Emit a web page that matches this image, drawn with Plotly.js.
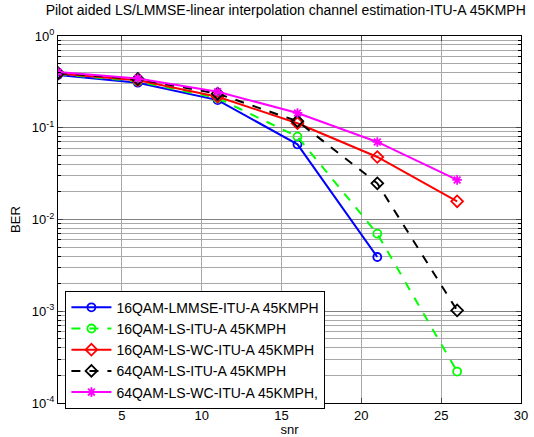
<!DOCTYPE html>
<html><head><meta charset="utf-8">
<script src="https://cdn.plot.ly/plotly-3.0.1.min.js"></script>
<style>html,body{margin:0;padding:0;background:#fff}#chart{width:534px;height:437px}</style>
</head><body><div id="chart"></div>
<script>
const snr = [1, 6, 11, 16, 21, 26];
const names = ['16QAM-LMMSE-ITU-A 45KMPH','16QAM-LS-ITU-A 45KMPH','16QAM-LS-WC-ITU-A 45KMPH','64QAM-LS-ITU-A 45KMPH','64QAM-LS-WC-ITU-A 45KMPH,'];
const berLMMSE16 = [0.375, 0.31, 0.20, 0.066, 0.0039];
const berLS16    = [0.385, 0.32, 0.21, 0.080, 0.0070, 0.00022];
const berLSWC16  = [0.39, 0.33, 0.218, 0.112, 0.048, 0.0158];
const berLS64    = [0.395, 0.34, 0.235, 0.118, 0.0248, 0.00102];
const berLSWC64  = [0.405, 0.345, 0.247, 0.145, 0.070, 0.027];
const yTickVals = [1e-4, 1e-3, 1e-2, 1e-1, 1];
const yTickText = ['10<sup>-4</sup>','10<sup>-3</sup>','10<sup>-2</sup>','10<sup>-1</sup>','10<sup>0</sup>'];

const series = [
  {y: berLMMSE16, color: '#0000ff', dash: 'solid', symbol: 'circle-open', size: 8},
  {y: berLS16, color: '#00ff00', dash: 'dash', symbol: 'circle-open', size: 8},
  {y: berLSWC16, color: '#ff0000', dash: 'solid', symbol: 'diamond-open', size: 9},
  {y: berLS64, color: '#000000', dash: 'dash', symbol: 'diamond-open', size: 9},
  {y: berLSWC64, color: '#ff00ff', dash: 'solid', symbol: 'asterisk-open', size: 8}
];
const traces = series.map((s, i) => ({
  x: snr.slice(0, s.y.length), y: s.y, name: names[i], type: 'scatter', mode: 'lines+markers',
  line: {color: s.color, width: 2, dash: s.dash},
  marker: {symbol: s.symbol, size: s.size, color: s.color, line: {color: s.color, width: 1.8}}
}));
const font = {family: 'Liberation Sans, Arial, sans-serif', size: 13, color: '#000'};
const layout = {
  width: 534, height: 437,
  margin: {l: 58, r: 13, t: 36, b: 34},
  paper_bgcolor: '#fff', plot_bgcolor: '#fff',
  font: font,
  title: {text: 'Pilot aided LS/LMMSE-linear interpolation channel estimation-ITU-A 45KMPH', font: {family: font.family, size: 14, color: '#000'}, x: 0.535, xanchor: 'center', y: 0.988, yanchor: 'top'},
  xaxis: {range: [1, 30], tickvals: [5,10,15,20,25,30], ticks: 'inside', ticklen: 5, mirror: 'ticks',
    showline: true, linecolor: '#000', linewidth: 1, zeroline: false,
    showgrid: true, gridcolor: '#a8a8a8', gridwidth: 1,
    title: {text: 'snr', standoff: 8, font: font}, tickfont: font},
  yaxis: {type: 'log', range: [-4, 0], tickvals: yTickVals, ticktext: yTickText,
    ticks: 'inside', ticklen: 5, mirror: 'ticks', showline: true, linecolor: '#000', linewidth: 1,
    showgrid: true, gridcolor: '#808080', gridwidth: 1,
    minor: {dtick: 'D1', showgrid: true, gridcolor: '#a8a8a8', gridwidth: 1, ticks: 'inside', ticklen: 3, tickcolor: '#000'},
    title: {text: 'BER', standoff: 8, font: font}, tickfont: font},
  legend: {x: 0.016, y: 0.306, xanchor: 'left', yanchor: 'top', bgcolor: '#fff', bordercolor: '#000', borderwidth: 1,
    font: {family: font.family, size: 14, color: '#000'}, itemwidth: 40, tracegroupgap: 0},
  showlegend: true
};
Plotly.newPlot('chart', traces, layout, {displayModeBar: false, staticPlot: true});
</script></body></html>
